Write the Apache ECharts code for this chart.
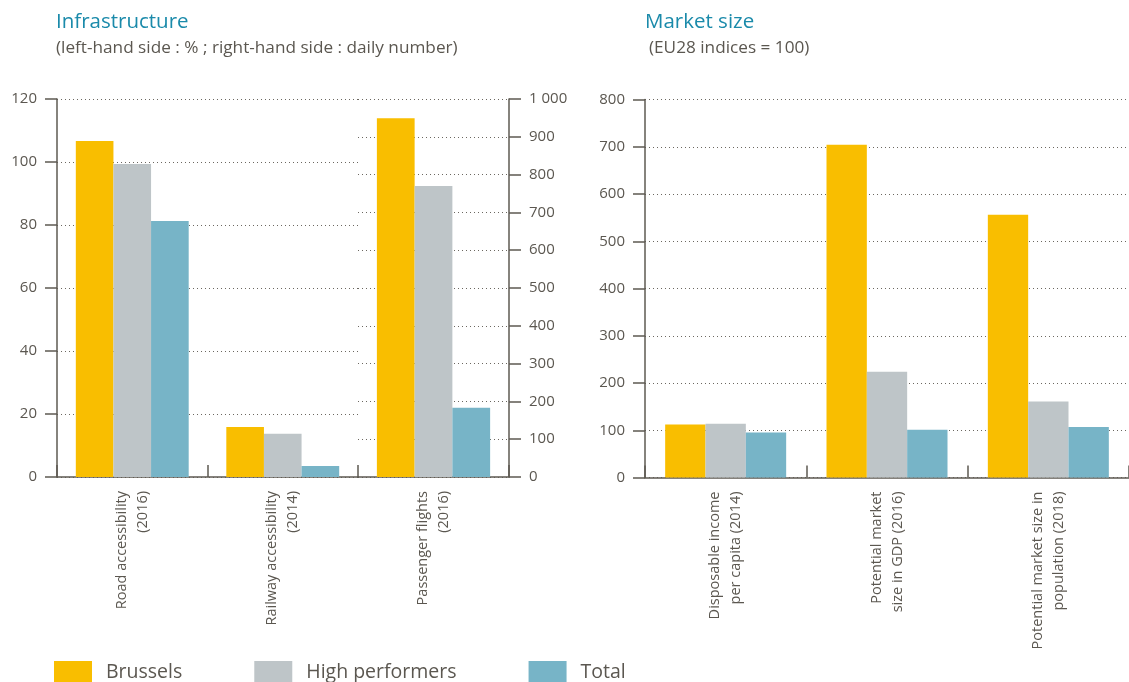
<!DOCTYPE html>
<html>
<head>
<meta charset="utf-8">
<script src="https://cdn.jsdelivr.net/npm/echarts@6/dist/echarts.min.js"></script>
<style>
  html, body { margin: 0; padding: 0; background: #fff; }
  #chart { width: 1129px; height: 682px; }
</style>
</head>
<body>
<div id="chart"></div>
<script>
// ---- Data ----
const seriesNames = ['Brussels', 'High performers', 'Total'];

const infraCategories = ['Road accessibility\n(2016)', 'Railway accessibility\n(2014)'];
const infraBrussels = [106.7, 15.9];
const infraHigh = [99.4, 13.7];
const infraTotal = [81.3, 3.5];

const flightCategories = ['Passenger flights\n(2016)'];
const flightBrussels = [949];
const flightHigh = [770];
const flightTotal = [183];

const marketCategories = ['Disposable income\nper capita (2014)', 'Potential market\nsize in GDP (2016)', 'Potential market size in\npopulation (2018)'];
const marketBrussels = [112, 704, 556];
const marketHigh = [114, 224, 161];
const marketTotal = [95, 101, 107];

// ---- Style ----
const FONT = '"Open Sans", "Noto Sans", sans-serif';
const colors = ['#F9BE00', '#BEC5C8', '#77B4C7'];
const axisColor = '#5e5a52';
const textColor = '#5b5750';
const gridColor = '#6b6760';

function catAxis(gridIndex, data) {
  return {
    type: 'category', gridIndex: gridIndex, data: data,
    axisLine: { lineStyle: { color: axisColor, width: 1.5 } },
    axisTick: { show: true, inside: true, length: 12, alignWithLabel: false, lineStyle: { color: axisColor, width: 1.5 } },
    axisLabel: { interval: 0, rotate: 90, margin: 14, color: textColor, fontFamily: FONT, fontSize: 14.5, lineHeight: 21 }
  };
}
function valAxis(gridIndex, pos, max, interval, fmt) {
  return {
    type: 'value', gridIndex: gridIndex, position: pos, min: 0, max: max, interval: interval,
    axisLine: { show: true, lineStyle: { color: axisColor, width: 1.5 } },
    axisTick: { show: true, length: 12, lineStyle: { color: axisColor, width: 1.5 } },
    axisLabel: { color: textColor, fontFamily: FONT, fontSize: 15, margin: 20, formatter: fmt },
    splitLine: { show: true, lineStyle: { color: gridColor, type: [1, 3], width: 1 } }
  };
}
function bars(name, xi, yi, data, ci) {
  return {
    name: name, type: 'bar', xAxisIndex: xi, yAxisIndex: yi, data: data,
    barGap: '0%', barCategoryGap: '25%', itemStyle: { color: colors[ci] },
    emphasis: { disabled: true }
  };
}

const chart = echarts.init(document.getElementById('chart'), null, { renderer: 'canvas' });
chart.setOption({
  animation: false,
  textStyle: { fontFamily: FONT },
  grid: [
    { left: 57, top: 99, width: 301, height: 378 },
    { left: 358, top: 99, width: 151, height: 378 },
    { left: 645, top: 99.5, width: 492, height: 378 }
  ],
  xAxis: [
    catAxis(0, infraCategories),
    catAxis(1, flightCategories),
    catAxis(2, marketCategories)
  ],
  yAxis: [
    valAxis(0, 'left', 120, 20),
    valAxis(1, 'right', 1000, 100, function (v) { return v >= 1000 ? String(v).replace(/(\d)(\d{3})$/, '$1 $2') : String(v); }),
    valAxis(2, 'left', 800, 100)
  ],
  legend: {
    data: seriesNames, left: 54, top: 661, padding: 0, itemWidth: 38, itemHeight: 22, itemGap: 72,
    icon: 'rect', selectedMode: false,
    textStyle: { color: textColor, fontFamily: FONT, fontSize: 19.5, padding: [0, 0, 0, 9] }
  },
  graphic: [
    { type: 'text', left: 56, top: 12, style: { text: 'Infrastructure', fill: '#1a8aaa', font: '20.5px ' + FONT } },
    { type: 'text', left: 56, top: 40, style: { text: '(left-hand side : % ; right-hand side : daily number)', fill: textColor, font: '17.2px ' + FONT } },
    { type: 'text', left: 645, top: 12, style: { text: 'Market size', fill: '#1a8aaa', font: '20.5px ' + FONT } },
    { type: 'text', left: 649, top: 40, style: { text: '(EU28 indices = 100)', fill: textColor, font: '17.2px ' + FONT } }
  ],
  series: [
    bars('Brussels', 0, 0, infraBrussels, 0),
    bars('High performers', 0, 0, infraHigh, 1),
    bars('Total', 0, 0, infraTotal, 2),
    bars('Brussels', 1, 1, flightBrussels, 0),
    bars('High performers', 1, 1, flightHigh, 1),
    bars('Total', 1, 1, flightTotal, 2),
    bars('Brussels', 2, 2, marketBrussels, 0),
    bars('High performers', 2, 2, marketHigh, 1),
    bars('Total', 2, 2, marketTotal, 2)
  ]
});
</script>
</body>
</html>
